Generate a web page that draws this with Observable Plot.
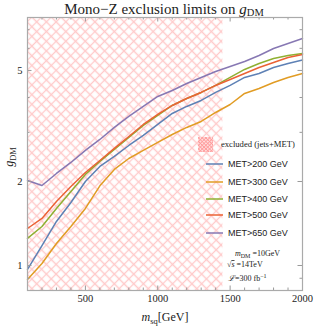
<!DOCTYPE html>
<html><head><meta charset="utf-8">
<script src="https://cdn.jsdelivr.net/npm/d3@7"></script>
<script src="https://cdn.jsdelivr.net/npm/@observablehq/plot@0.6"></script>
<style>body{margin:0;background:#fff}</style>
</head><body><div id="chart"></div>
<script>
const mass = [100,200,300,400,500,600,700,800,900,1000,1100,1200,1300,1400,1500,1600,1700,1800,1900,2000];
const met200 = [0.968,1.179,1.438,1.682,2.000,2.264,2.459,2.692,2.924,3.202,3.506,3.715,3.904,4.170,4.418,4.719,4.877,5.125,5.297,5.452];
const met300 = [0.891,1.017,1.199,1.380,1.601,1.930,2.210,2.418,2.584,2.760,2.948,3.124,3.282,3.535,3.776,4.136,4.309,4.529,4.719,4.877];
const met400 = [1.250,1.380,1.601,1.842,2.120,2.359,2.605,2.876,3.176,3.448,3.745,3.968,4.170,4.418,4.719,5.042,5.297,5.521,5.658,5.752];
const met500 = [1.357,1.474,1.696,1.919,2.154,2.378,2.627,2.900,3.202,3.477,3.745,3.968,4.170,4.418,4.642,4.877,5.125,5.342,5.567,5.706];
const met650 = [2.017,1.935,2.137,2.340,2.584,2.829,3.124,3.421,3.715,4.034,4.239,4.491,4.719,4.958,5.168,5.386,5.658,5.995,6.248,6.510];
const seriesNames = ["MET>200 GeV","MET>300 GeV","MET>400 GeV","MET>500 GeV","MET>650 GeV"];
const seriesValues = [met200, met300, met400, met500, met650];
const excludedRange = [100, 1450];
const xMajor = [500,1000,1500,2000];
const xMinor = [100,200,300,400,600,700,800,900,1100,1200,1300,1400,1600,1700,1800,1900];
const yMajor = [1,2,5];
const yMinor = [0.9,3,4,6,7];

const colors = ["#5E81B5","#E19C24","#8FB032","#EB6235","#8778B3"];
const rows = [];
seriesNames.forEach((s,i)=>mass.forEach((m,j)=>rows.push({series:s, m, g:seriesValues[i][j]})));

const W=316,H=329,mt=17,mb=39,ml=27,mr=14;
const ih=H-mt-mb, iw=W-ml-mr;
const tc="#999";
const plot = Plot.plot({
  width:W, height:H, marginTop:mt, marginBottom:mb, marginLeft:ml, marginRight:mr,
  style:{fontFamily:"'Liberation Serif', serif", fontSize:"10.5px", color:"#222", background:"#fff"},
  x:{domain:[100,2000]},
  y:{type:"log", domain:[0.8135,7.74]},
  color:{domain:seriesNames, range:colors},
  marks:[
    Plot.rect([excludedRange],{x1:d=>d[0], x2:d=>d[1], y1:0.8135, y2:7.74, fill:"url(#hatch)"}),
    Plot.line(rows,{x:"m", y:"g", z:"series", stroke:"series", strokeWidth:1.5, curve:"linear"}),
    Plot.tickX(xMajor,{x:d=>d, stroke:tc, insetTop:ih-4.5}),
    Plot.tickX(xMinor,{x:d=>d, stroke:tc, insetTop:ih-2.5}),
    Plot.tickX(xMajor,{x:d=>d, stroke:tc, insetBottom:ih-4.5}),
    Plot.tickX(xMinor,{x:d=>d, stroke:tc, insetBottom:ih-2.5}),
    Plot.tickY(yMajor,{y:d=>d, stroke:tc, insetRight:iw-4.5}),
    Plot.tickY(yMinor,{y:d=>d, stroke:tc, insetRight:iw-2.5}),
    Plot.tickY(yMajor,{y:d=>d, stroke:tc, insetLeft:iw-4.5}),
    Plot.tickY(yMinor,{y:d=>d, stroke:tc, insetLeft:iw-2.5}),
    Plot.axisX({ticks:xMajor, tickSize:0, tickPadding:4.5, label:null, tickFormat:d=>String(d)}),
    Plot.axisY({ticks:yMajor, tickSize:0, tickPadding:5, label:null, tickFormat:d=>String(d)}),
    Plot.frame({stroke:"#aaa", strokeWidth:1.2})
  ]
});
document.getElementById("chart").appendChild(plot);
const svg = d3.select(plot);
const defs = svg.insert("defs",":first-child");
const s=6.86;
const p = defs.append("pattern").attr("id","hatch").attr("patternUnits","userSpaceOnUse")
  .attr("width",s).attr("height",s).attr("patternTransform","translate(27,17) rotate(45)");
p.append("path").attr("d",`M0,${s/2}H${s}M${s/2},0V${s}`).attr("stroke","#ffcaca").attr("stroke-width",1.3).attr("fill","none");
const s2=2.6;
const p2 = defs.append("pattern").attr("id","hatch2").attr("patternUnits","userSpaceOnUse")
  .attr("width",s2).attr("height",s2).attr("patternTransform","rotate(45)");
p2.append("rect").attr("width",s2).attr("height",s2).attr("fill","#fff");
p2.append("path").attr("d",`M0,${s2/2}H${s2}M${s2/2},0V${s2}`).attr("stroke","#ff9c9c").attr("stroke-width",1.1).attr("fill","none");

const serif="'Liberation Serif', serif";
const g = svg.append("g").attr("text-anchor","start").attr("fill","#222");
// title
const t = g.append("text").attr("x",164).attr("y",13.5).attr("text-anchor","middle")
  .attr("font-family",serif).attr("font-size",15);
t.append("tspan").text("Mono\u2212Z exclusion limits on ");
t.append("tspan").attr("font-style","italic").text("g");
t.append("tspan").attr("font-size",10.5).attr("dy",2.5).text("DM");
// x label
const xl = g.append("text").attr("x",165).attr("y",321).attr("text-anchor","middle")
  .attr("font-family",serif).attr("font-size",12);
xl.append("tspan").attr("font-style","italic").text("m");
xl.append("tspan").attr("font-size",8.5).attr("dy",2.5).text("sq");
xl.append("tspan").attr("dy",-2.5).text("[GeV]");
// y label
const yl = g.append("text").attr("transform","translate(13,157) rotate(-90)").attr("text-anchor","middle")
  .attr("font-family",serif).attr("font-size",12);
yl.append("tspan").attr("font-style","italic").text("g");
yl.append("tspan").attr("font-size",8.5).attr("dy",2.5).text("DM");
// legend
g.append("rect").attr("x",198).attr("y",137).attr("width",15).attr("height",15).attr("fill","url(#hatch2)");
g.append("text").attr("x",221).attr("y",147).attr("font-family",serif).attr("font-size",8.6).text("excluded (jets+MET)");
const ly=[164,182,199,215,233];
seriesNames.forEach((n,i)=>{
  g.append("line").attr("x1",206).attr("x2",223).attr("y1",ly[i]).attr("y2",ly[i]).attr("stroke",colors[i]).attr("stroke-width",1.5);
  g.append("text").attr("x",228).attr("y",ly[i]+3.3).attr("font-family","'Liberation Sans', Arial, sans-serif").attr("font-size",9).text(n);
});
// annotations
const a1 = g.append("text").attr("x",235).attr("y",256).attr("font-family",serif).attr("font-size",8);
a1.append("tspan").attr("font-style","italic").text("m");
a1.append("tspan").attr("font-size",6).attr("dy",1.5).text("DM");
a1.append("tspan").attr("dy",-1.5).text(" =10GeV");
const a2 = g.append("text").attr("x",227).attr("y",267).attr("font-family",serif).attr("font-size",8);
a2.append("tspan").text("\u221A");
a2.append("tspan").attr("font-style","italic").attr("text-decoration","overline").text("s");
a2.append("tspan").text(" =14TeV");
const a3 = g.append("text").attr("x",228).attr("y",281).attr("font-family",serif).attr("font-size",8);
a3.append("tspan").attr("font-style","italic").text("\u2112");
a3.append("tspan").text("=300 fb");
a3.append("tspan").attr("font-size",6).attr("dy",-3).text("\u22121");
</script></body></html>
